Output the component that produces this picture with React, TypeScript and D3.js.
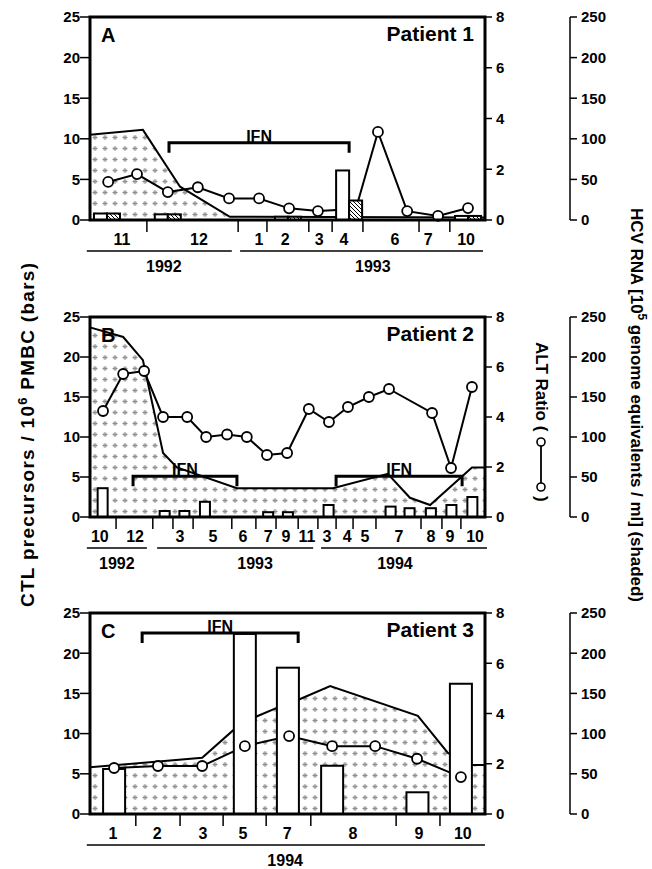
import React from "react";
import * as d3 from "d3";

// Patient 1 (A) -- x positions are in axis units 0..100 along the (non-linear) time axis
const p1HcvPos = [0, 13.4, 22.8, 35.4, 100];
const p1Hcv = [105, 111, 41, 4, 3];
const p1AltPos = [4.6, 11.9, 19.7, 27.3, 35.2, 42.8, 50.4, 57.7, 67.3, 72.9, 80.3, 88.1, 95.7];
const p1Alt = [1.5, 1.81, 1.1, 1.29, 0.85, 0.85, 0.46, 0.35, 0.43, 3.47, 0.35, 0.16, 0.47];
const p1BarPos = [4.3, 19.7, 50.1, 65.6, 95.7];
const p1CtlOpen = [0.8, 0.7, 0.4, 6.1, 0.5];
const p1CtlHatched = [0.8, 0.7, 0.4, 2.4, 0.5];
const p1Ticks = [14.4, 37.5, 44.8, 55.4, 61.3, 69.1, 83.3, 91.1];
const p1Months = ["11", "12", "1", "2", "3", "4", "6", "7", "10"];
const p1MonthPos = [8.1, 27.6, 42.8, 49.4, 58.0, 64.3, 77.2, 85.6, 95.2];
const p1Years = ["1992", "1993"];
const p1YearPos = [18.7, 71.6];
const p1YearSpans = [[-0.8, 35.9], [38.0, 99.5]];
const p1Ifn = [[20.0, 65.6]];

// Patient 2 (B)
const p2HcvPos = [0, 8.4, 13.4, 18.5, 22.0, 37.2, 61.5, 75.4, 81.0, 86.1, 96.7, 100];
const p2Hcv = [237, 225, 196, 80, 62, 36, 36, 54, 24, 15, 62, 62];
const p2AltPos = [3.3, 8.4, 13.7, 18.5, 24.6, 29.4, 34.7, 39.7, 44.8, 49.9, 55.4, 60.5, 65.3, 70.6, 75.7, 86.6, 91.4, 96.7];
const p2Alt = [4.24, 5.72, 5.84, 4.0, 4.0, 3.2, 3.3, 3.2, 2.48, 2.56, 4.32, 3.8, 4.4, 4.8, 5.12, 4.16, 1.96, 5.2];
const p2BarPos = [3.2, 18.9, 23.9, 29.1, 45.1, 50.1, 60.4, 76.1, 80.9, 86.3, 91.5, 96.8];
const p2Ctl = [3.6, 0.75, 0.75, 1.9, 0.6, 0.6, 1.5, 1.3, 1.1, 1.1, 1.5, 2.5];
const p2Ticks = [6.6, 15.9, 21.0, 26.1, 35.9, 42.0, 47.1, 52.7, 57.7, 62.3, 66.6, 72.4, 83.8, 89.1, 93.9];
const p2Months = ["10", "12", "3", "5", "6", "7", "9", "11", "3", "4", "5", "7", "8", "9", "10"];
const p2MonthPos = [2.5, 11.4, 22.8, 31.1, 38.7, 45.1, 49.6, 54.9, 60.0, 65.1, 69.6, 78.2, 86.3, 91.1, 97.5];
const p2Years = ["1992", "1993", "1994"];
const p2YearPos = [6.8, 41.8, 77.2];
const p2YearSpans = [[-0.8, 14.4], [17.0, 56.5], [58.5, 100.5]];
const p2Ifn = [[10.9, 37.2], [62.3, 94.2]];

// Patient 3 (C)
const p3HcvPos = [0, 28.4, 36.2, 42.0, 47.3, 53.2, 60.8, 83.0, 90.6, 96.7, 100];
const p3Hcv = [58, 70, 104, 121, 132, 143, 159, 122, 76, 61, 61];
const p3AltPos = [6.1, 17.2, 28.4, 39.2, 50.4, 61.3, 72.2, 82.8, 93.9];
const p3Alt = [1.83, 1.91, 1.91, 2.7, 3.1, 2.7, 2.7, 2.2, 1.47];
const p3BarPos = [6.1, 39.2, 50.1, 61.3, 82.9, 93.9];
const p3Ctl = [5.6, 22.4, 18.2, 6.0, 2.7, 16.2];
const p3Ticks = [11.6, 22.8, 33.7, 44.6, 55.9, 77.5, 88.6];
const p3Months = ["1", "2", "3", "5", "7", "8", "9", "10"];
const p3MonthPos = [5.8, 17.0, 28.6, 38.7, 49.9, 66.6, 83.3, 94.4];
const p3Years = ["1994"];
const p3YearPos = [49.4];
const p3YearSpans = [[-0.8, 100]];
const p3Ifn = [[13.2, 52.7]];

const LEFT = 90;
const RIGHT = 485;
const RNA_X = 570;
const FONT = "'Liberation Sans', Arial, Helvetica, sans-serif";

const Panel = (p: any) => {
  const x = d3.scaleLinear().domain([0, 100]).range([LEFT, RIGHT]);
  const yCtl = d3.scaleLinear().domain([0, 25]).range([p.bottom, p.top]);
  const yAlt = d3.scaleLinear().domain([0, 8]).range([p.bottom, p.top]);
  const yRna = d3.scaleLinear().domain([0, 250]).range([p.bottom, p.top]);

  const hcvData: [number, number][] = p.hcvPos.map((d: number, i: number) => [d, p.hcv[i]]);
  const altData: [number, number][] = p.altPos.map((d: number, i: number) => [d, p.alt[i]]);

  const area = d3.area<[number, number]>().x((d) => x(d[0])).y0(p.bottom).y1((d) => yRna(d[1]));
  const outline = d3.line<[number, number]>().x((d) => x(d[0])).y((d) => yRna(d[1]));
  const altLine = d3.line<[number, number]>().x((d) => x(d[0])).y((d) => yAlt(d[1]));

  const w = p.barW;
  const bars = (
    <g stroke="#000" strokeWidth={2}>
      {p.barPos.map((c: number, i: number) =>
        p.hatched ? (
          <g key={i}>
            <rect x={x(c) - w} y={yCtl(p.bars[i])} width={w} height={p.bottom - yCtl(p.bars[i])} fill="#fff" />
            <rect x={x(c)} y={yCtl(p.hatched[i])} width={w} height={p.bottom - yCtl(p.hatched[i])} fill="url(#hatch)" />
          </g>
        ) : (
          <rect key={i} x={x(c) - w / 2} y={yCtl(p.bars[i])} width={w} height={p.bottom - yCtl(p.bars[i])} fill="#fff" />
        )
      )}
    </g>
  );
  const circles = (
    <g fill="#fff" stroke="#000" strokeWidth={1.8}>
      {altData.map((d, i) => (
        <circle key={i} cx={x(d[0])} cy={yAlt(d[1])} r={5} />
      ))}
    </g>
  );
  const ifnY = yCtl(p.ifnLevel);

  return (
    <g fontFamily={FONT} fontWeight="bold">
      <path d={area(hcvData) || ""} fill="url(#stipple)" />
      <path d={outline(hcvData) || ""} fill="none" stroke="#000" strokeWidth={2} />
      <path d={altLine(altData) || ""} fill="none" stroke="#000" strokeWidth={2} />
      {p.barsOnTop ? (
        <>
          {circles}
          {bars}
        </>
      ) : (
        <>
          {bars}
          {circles}
        </>
      )}

      {/* IFN brackets */}
      {p.ifn.map((s: number[], i: number) => (
        <g key={i}>
          <path
            d={`M${x(s[0])},${ifnY + 10}V${ifnY}H${x(s[1])}V${ifnY + 10}`}
            fill="none"
            stroke="#000"
            strokeWidth={3}
          />
          <text x={(x(s[0]) + x(s[1])) / 2} y={ifnY - 1} textAnchor="middle" fontSize={16}>
            IFN
          </text>
        </g>
      ))}

      <rect x={LEFT} y={p.top} width={RIGHT - LEFT} height={p.bottom - p.top} fill="none" stroke="#000" strokeWidth={3} />

      {/* left axis */}
      {yCtl.ticks(5).map((t) => (
        <g key={"l" + t}>
          <line x1={LEFT - 10} x2={LEFT} y1={yCtl(t)} y2={yCtl(t)} stroke="#000" strokeWidth={1.5} />
          <text x={LEFT - 10} y={yCtl(t)} dy="0.36em" textAnchor="end" fontSize={15}>
            {t}
          </text>
        </g>
      ))}
      {/* ALT axis */}
      {yAlt.ticks(4).map((t) => (
        <g key={"a" + t}>
          <line x1={RIGHT} x2={RIGHT + 7} y1={yAlt(t)} y2={yAlt(t)} stroke="#000" strokeWidth={1.5} />
          <text x={RIGHT + 11} y={yAlt(t)} dy="0.36em" fontSize={15}>
            {t}
          </text>
        </g>
      ))}
      {/* HCV RNA axis */}
      <line x1={RNA_X} x2={RNA_X} y1={p.top} y2={p.bottom} stroke="#000" strokeWidth={1.5} />
      {yRna.ticks(5).map((t) => (
        <g key={"r" + t}>
          <line x1={RNA_X} x2={RNA_X + 7} y1={yRna(t)} y2={yRna(t)} stroke="#000" strokeWidth={1.5} />
          <text x={RNA_X + 11} y={yRna(t)} dy="0.36em" fontSize={15}>
            {t}
          </text>
        </g>
      ))}

      {/* time axis */}
      {p.ticks.map((t: number, i: number) => (
        <line key={"t" + i} x1={x(t)} x2={x(t)} y1={p.bottom + 1} y2={p.bottom + 12} stroke="#000" strokeWidth={1.5} />
      ))}
      {p.months.map((m: string, i: number) => (
        <text key={"m" + i} x={x(p.monthPos[i])} y={p.bottom + 25} textAnchor="middle" fontSize={16}>
          {m}
        </text>
      ))}
      {p.yearSpans.map((s: number[], i: number) => (
        <line key={"ys" + i} x1={x(s[0])} x2={x(s[1])} y1={p.bottom + 31} y2={p.bottom + 31} stroke="#000" strokeWidth={1.5} />
      ))}
      {p.years.map((yr: string, i: number) => (
        <text key={"y" + i} x={x(p.yearPos[i])} y={p.bottom + 52} textAnchor="middle" fontSize={16}>
          {yr}
        </text>
      ))}

      <text x={LEFT + 11} y={p.top + 25} fontSize={20}>
        {p.letter}
      </text>
      <text x={RIGHT - 11} y={p.top + 24} textAnchor="end" fontSize={21}>
        {p.patient}
      </text>
    </g>
  );
};

const App = () => {
  return (
    <svg width={652} height={869} style={{ position: "absolute", left: 0, top: 0, background: "#fff" }}>
      <defs>
        <pattern id="stipple" patternUnits="userSpaceOnUse" width={10} height={11}>
          <path d="M2.5,5.5h5M5,3v5M3.3,3.8l3.4,3.4M6.7,3.8l-3.4,3.4" stroke="#8f8f8f" strokeWidth={1} fill="none" />
        </pattern>
        <pattern id="hatch" patternUnits="userSpaceOnUse" width={4} height={4}>
          <rect width={4} height={4} fill="#fff" />
          <path d="M0,0L4,4M-1,3L1,5M3,-1L5,1" stroke="#000" strokeWidth={1} />
        </pattern>
      </defs>

      <Panel
        top={17} bottom={220} letter="A" patient="Patient 1"
        hcvPos={p1HcvPos} hcv={p1Hcv} altPos={p1AltPos} alt={p1Alt}
        barPos={p1BarPos} bars={p1CtlOpen} hatched={p1CtlHatched} barW={13} barsOnTop
        ticks={p1Ticks} months={p1Months} monthPos={p1MonthPos}
        years={p1Years} yearPos={p1YearPos} yearSpans={p1YearSpans}
        ifn={p1Ifn} ifnLevel={9.5}
      />
      <Panel
        top={317} bottom={517} letter="B" patient="Patient 2"
        hcvPos={p2HcvPos} hcv={p2Hcv} altPos={p2AltPos} alt={p2Alt}
        barPos={p2BarPos} bars={p2Ctl} barW={10}
        ticks={p2Ticks} months={p2Months} monthPos={p2MonthPos}
        years={p2Years} yearPos={p2YearPos} yearSpans={p2YearSpans}
        ifn={p2Ifn} ifnLevel={5.1}
      />
      <Panel
        top={613} bottom={814} letter="C" patient="Patient 3"
        hcvPos={p3HcvPos} hcv={p3Hcv} altPos={p3AltPos} alt={p3Alt}
        barPos={p3BarPos} bars={p3Ctl} barW={22}
        ticks={p3Ticks} months={p3Months} monthPos={p3MonthPos}
        years={p3Years} yearPos={p3YearPos} yearSpans={p3YearSpans}
        ifn={p3Ifn} ifnLevel={22.5}
      />

      <g fontFamily={FONT} fontWeight="bold">
        <text transform="translate(34,607) rotate(-90)" fontSize={19} textLength={344} lengthAdjust="spacing">
          CTL precursors / 10<tspan dy={-7} fontSize={13}>6</tspan>
          <tspan dy={7}> PMBC (bars)</tspan>
        </text>
        <text transform="translate(631,208) rotate(90)" fontSize={17} textLength={394} lengthAdjust="spacing">
          HCV RNA [10<tspan dy={-7} fontSize={12}>5</tspan>
          <tspan dy={7}> genome equivalents / ml] (shaded)</tspan>
        </text>
        <text transform="translate(536,342) rotate(90)" fontSize={17}>
          ALT Ratio (
        </text>
        <line x1={541} x2={541} y1={442} y2={487} stroke="#000" strokeWidth={1.8} />
        <circle cx={541} cy={442} r={4} fill="#fff" stroke="#000" strokeWidth={1.6} />
        <circle cx={541} cy={487} r={4} fill="#fff" stroke="#000" strokeWidth={1.6} />
        <text transform="translate(536,496) rotate(90)" fontSize={17}>
          )
        </text>
      </g>
    </svg>
  );
};

export default App;
